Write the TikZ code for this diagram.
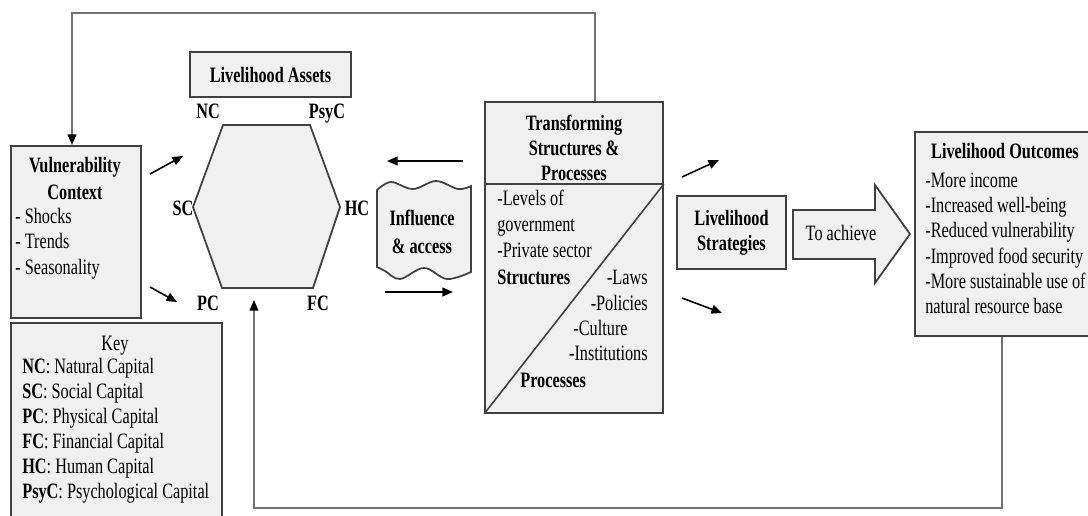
\documentclass[tikz,border=0pt]{standalone}
\usepackage{fontspec}
\setmainfont{Liberation Serif}[FakeStretch=0.74]
\usetikzlibrary{arrows.meta}
\usetikzlibrary{calc}

\tikzset{
	panel/.style={draw=black!75, fill=black!6, line width=1pt, rectangle, inner sep=0pt},
	txt/.style={inner sep=0pt, font=\fontsize{12.5}{14.2}\selectfont, text height=8.5pt, text depth=2.5pt},
	btxt/.style={txt, font=\fontsize{12.5}{14.2}\selectfont\bfseries},
	arr/.style={-{Triangle[length=6pt,width=5pt]}, line width=0.9pt, black},
	loopline/.style={draw=black!55, line width=0.7pt, -{Triangle[length=6pt,width=5pt,color=black]}},
}

\begin{document}
\begin{tikzpicture}[x=0.02cm, y=-0.02cm]
	\useasboundingbox (0,0) rectangle (1088,515);
	
	\node [panel, minimum width=3.22cm, minimum height=0.9cm, font=\fontsize{12.5}{14.2}\selectfont\bfseries] at (270.5,74.5) (assets){Livelihood Assets};
	
	\draw [panel] (223,125) -- (310,125) -- (340,207) -- (313,288) -- (222,288) -- (193,207) -- cycle;
	\node [btxt] at (208,113) (nc){NC};
	\node [btxt] at (327,113) (psyc){PsyC};
	\node [btxt] at (183,210) (sc){SC};
	\node [btxt] at (357,210) (hc){HC};
	\node [btxt] at (208,305) (pc){PC};
	\node [btxt] at (318,305) (fc){FC};
	
	\node [panel, anchor=north west, minimum width=2.6cm, minimum height=3.44cm] at (10,145) (vuln){};
	\node [btxt] at (75,167) (vuln_title1){Vulnerability};
	\node [btxt] at (75,194) (vuln_title2){Context};
	\foreach \y/\t in {218/Shocks, 243/Trends, 269/Seasonality}{
		\node [txt, anchor=west] at (15,\y) (vuln_\t){- \t};
	}
	
	\node [panel, anchor=north west, minimum width=4.22cm, minimum height=3.96cm] at (10,322) (key){};
	\node [txt] at (115,345) (key_title){Key};
	\foreach \y/\a/\b in {368/NC/Natural, 393/SC/Social, 418/PC/Physical, 443/FC/Financial, 468/HC/Human, 493/PsyC/Psychological}{
		\node [txt, anchor=west] at (22,\y) (key_\a){\textbf{\a}: \b{} Capital};
	}
	
	\draw [panel] plot [smooth, tension=0.6] coordinates {(377,190) (391,182) (413,189) (436,181) (458,189) (471,186)}
		-- plot [smooth, tension=0.6] coordinates {(471,272) (447,279) (424,268) (400,279) (385,271) (377,267)} -- cycle;
	\node [btxt] at (422,220) (influence){Influence};
	\node [btxt] at (422,248) (access){\& access};
	
	\node [panel, minimum width=3.56cm, minimum height=6.22cm] at (574,257.5) (trans){};
	\node [font=\fontsize{12.5}{14.2}\selectfont\bfseries, align=center, inner sep=0pt] at (574,148) (trans_title){Transforming\\Structures \&\\Processes};
	\coordinate (divider) at (574,184);
	\draw [black!75, line width=1pt] (divider -| trans.west) -- (divider -| trans.east);
	\draw [black!75, line width=0.9pt] (trans.south west) -- (divider -| trans.east);
	\node [txt, anchor=west] at (497,200) (levels){-Levels of};
	\node [txt, anchor=west] at (497,226) (government){government};
	\node [txt, anchor=west] at (497,252) (private){-Private sector};
	\node [btxt, anchor=west] at (497,279) (structures){Structures};
	\node [txt, anchor=east] at (648,279) (laws){-Laws};
	\node [txt, anchor=east] at (648,305) (policies){-Policies};
	\node [txt, anchor=east] at (628,330) (culture){-Culture};
	\node [txt, anchor=east] at (648,355) (institutions){-Institutions};
	\node [btxt, anchor=west] at (520,382) (processes){Processes};
	
	\node [panel, minimum width=2.18cm, minimum height=1.46cm, align=center, font=\fontsize{12.5}{14.2}\selectfont\bfseries] at (731.5,232.5) (strategies){Livelihood\\Strategies};
	
	\draw [panel] (793,210) -- (875,210) -- (875,185) -- (910,234) -- (875,283) -- (875,259) -- (793,259) -- cycle;
	\node [txt] at (841,235) (achieve){To achieve};
	
	\node [panel, anchor=north west, minimum width=3.56cm, minimum height=4.08cm] at (914,131) (outcomes){};
	\node [btxt] at (1005,153) (outcomes_title){Livelihood Outcomes};
	\foreach \y/\t [count=\i] in {182/-More income, 207/-Increased well-being, 232/-Reduced vulnerability, 258/-Improved food security, 283/-More sustainable use of, 308/natural resource base}{
		\node [txt, anchor=west] at (925,\y) (outcome\i){\t};
	}
	
	% short arrows
	\coordinate (vh1_s) at (150,174); \coordinate (vh1_e) at (183,156);
	\coordinate (vh2_s) at (150,287); \coordinate (vh2_e) at (177,302);
	\coordinate (th_s) at (463,161); \coordinate (th_e) at (387,161);
	\coordinate (ht_s) at (385,292); \coordinate (ht_e) at (453,292);
	\coordinate (ts1_s) at (682,177); \coordinate (ts1_e) at (719,160);
	\coordinate (ts2_s) at (682,298); \coordinate (ts2_e) at (722,313);
	\foreach \a in {vh1, vh2, th, ht, ts1, ts2}{
		\draw [arr] (\a_s) -- (\a_e);
	}
	
	% feedback loops
	\coordinate (loop_tr) at (595,13);
	\coordinate (loop_tl) at (72,13);
	\draw [loopline] (loop_tr |- trans.north) -- (loop_tr) -- (loop_tl) -- (loop_tl |- vuln.north);
	\coordinate (loop_br) at (1002,508);
	\coordinate (loop_up) at (254,300);
	\draw [loopline] (loop_br |- outcomes.south) -- (loop_br) -| (loop_up);
	
\end{tikzpicture}
\end{document}
